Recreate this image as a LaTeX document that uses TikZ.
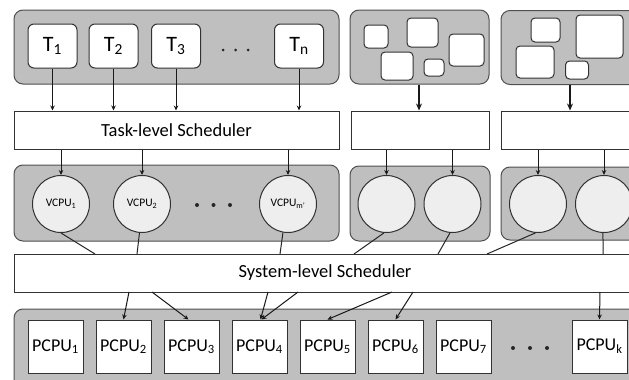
\documentclass[tikz,border=0pt]{standalone}
\usepackage{fontspec}
\setmainfont{Carlito}
\usetikzlibrary{arrows.meta}
\definecolor{grpfill}{RGB}{191,191,191}
\definecolor{grpline}{RGB}{80,80,80}
\definecolor{boxline}{RGB}{50,50,50}
\definecolor{circfill}{RGB}{238,238,238}
\begin{document}
\begin{tikzpicture}[x=1pt,y=-1pt,
  grp/.style={draw=grpline,fill=grpfill,rounded corners=9pt,line width=1pt,inner sep=0pt,rectangle},
  tbox/.style={draw=boxline,fill=white,rounded corners=6pt,line width=1pt,minimum width=49pt,minimum height=44pt,inner sep=0pt,font=\fontsize{22}{24}\selectfont},
  sbox/.style={draw=boxline,fill=white,rounded corners=4pt,line width=1pt,inner sep=0pt},
  sched/.style={draw=boxline,fill=white,line width=1pt,minimum height=38pt,inner sep=0pt,font=\fontsize{18.5}{20}\selectfont},
  vc/.style={circle,draw=boxline,fill=circfill,line width=1pt,minimum size=57pt,inner sep=0pt,font=\fontsize{11.5}{13}\selectfont},
  pc/.style={draw=boxline,fill=white,line width=1pt,minimum width=55pt,minimum height=53pt,inner sep=0pt,font=\fontsize{18}{20}\selectfont},
  arr/.style={line width=1pt,draw=black!90,-{Stealth[length=5pt,width=4.5pt]}},
  tarr/.style={line width=2pt,draw=black!90,-{Stealth[length=7pt,width=6pt]}},
  lnk/.style={line width=1pt,draw=black!85},
  dot/.style={circle,fill=black!85,inner sep=0pt}]
\useasboundingbox (0,0) rectangle (629,380);
\clip (0,0) rectangle (629,380);
\fill[white] (0,0) rectangle (629,380);

% top groups
\node[grp,minimum width=325pt,minimum height=74pt] (g1) at (176.5,47) {};
\node[grp,minimum width=139pt,minimum height=74pt] (g2) at (419.5,47) {};
\node[grp,minimum width=150pt,minimum height=74pt] (g3) at (576,47.5) {};

\node[tbox] (t1) at (52.5,46) {T\textsubscript{1}};
\node[tbox] (t2) at (113.5,46) {T\textsubscript{2}};
\node[tbox] (t3) at (176,46) {T\textsubscript{3}};
\node[tbox] (tn) at (299,46) {T\textsubscript{n}};
\node[dot,minimum size=3pt] (d1) at (223,50) {};
\node[dot,minimum size=3pt] (d2) at (235.5,50) {};
\node[dot,minimum size=3pt] (d3) at (248,50) {};

% small boxes group 2
\node[sbox,minimum width=24pt,minimum height=23pt] (ba) at (376,36.5) {};
\node[sbox,minimum width=31pt,minimum height=29pt] (bb) at (422.5,32.5) {};
\node[sbox,minimum width=35pt,minimum height=32pt] (bc) at (466.5,50) {};
\node[sbox,minimum width=32pt,minimum height=28pt] (bd) at (397,66) {};
\node[sbox,minimum width=20pt,minimum height=17pt] (be) at (434,67.5) {};
% small boxes group 3
\node[sbox,minimum width=29pt,minimum height=24pt] (bf) at (545.5,30) {};
\node[sbox,minimum width=47pt,minimum height=43pt] (bg) at (599.5,36.5) {};
\node[sbox,minimum width=38pt,minimum height=32pt] (bh) at (535,62) {};
\node[sbox,minimum width=23pt,minimum height=18pt] (bi) at (577,70) {};

% task-level schedulers
\node[sched,minimum width=325pt] (ts) at (176.5,130) {Task-level Scheduler};
\node[sched,minimum width=138pt] (s2) at (420,130) {};
\node[sched,minimum width=150pt] (s3) at (576,130) {};

\draw[arr] (t1.south) -- (t1.south |- ts.north);
\draw[arr] (t2.south) -- (t2.south |- ts.north);
\draw[arr] (t3.south) -- (t3.south |- ts.north);
\draw[arr] (tn.south) -- (tn.south |- ts.north);
\coordinate (a2) at (419,0);
\draw[tarr] (a2 |- g2.south) -- (a2 |- s2.north);
\coordinate (a3) at (570,0);
\draw[tarr] (a3 |- g3.south) -- (a3 |- s3.north);

% middle groups
\node[grp,minimum width=325pt,minimum height=76pt] (m1) at (176.5,203) {};
\node[grp,minimum width=140pt,minimum height=75pt] (m2) at (420,203.5) {};
\node[grp,minimum width=150pt,minimum height=73pt] (m3) at (576,203.5) {};

\node[vc] (v1) at (61,204) {VCPU\textsubscript{1}};
\node[vc] (v2) at (142,204) {VCPU\textsubscript{2}};
\node[vc] (vm) at (288,204) {VCPU\textsubscript{m’}};
\node[dot,minimum size=4pt] (e1) at (197,205) {};
\node[dot,minimum size=4pt] (e2) at (213.5,205) {};
\node[dot,minimum size=4pt] (e3) at (230,205) {};
\node[vc] (c1) at (386.5,204) {};
\node[vc] (c2) at (452.5,204) {};
\node[vc] (c3) at (538,204) {};
\node[vc] (c4) at (604,204) {};

\draw[arr] (v1 |- ts.south) -- (v1.north);
\draw[arr] (v2 |- ts.south) -- (v2.north);
\draw[arr] (vm |- ts.south) -- (vm.north);
\draw[arr] (c1 |- s2.south) -- (c1.north);
\draw[arr] (c2 |- s2.south) -- (c2.north);
\draw[arr] (c3 |- s3.south) -- (c3.north);
\draw[arr] (c4 |- s3.south) -- (c4.north);

% system-level scheduler
\node[sched,minimum width=622pt] (sys) at (325,273) {System-level Scheduler};

\coordinate (u1) at (95,254);
\coordinate (u2) at (137,254);
\coordinate (u3) at (280,254);
\coordinate (u4) at (354,254);
\coordinate (u5) at (438,254);
\coordinate (u6) at (487,254);
\coordinate (u7) at (603,254);
\draw[lnk] (v1.south) -- (u1);
\draw[lnk] (v2.-95) -- (u2);
\draw[lnk] (vm.-100) -- (u3);
\draw[lnk] (c1.-95) -- (u4);
\draw[lnk] (c2.-95) -- (u5);
\draw[lnk] (c3.-95) -- (u6);
\draw[lnk] (c4.-92) -- (u7);

% bottom group
\node[grp,minimum width=640pt,minimum height=90pt] (bot) at (334,354) {};
\node[pc] (p1) at (55.5,346.5) {PCPU\textsubscript{1}};
\node[pc] (p2) at (123.5,346.5) {PCPU\textsubscript{2}};
\node[pc] (p3) at (191.5,346.5) {PCPU\textsubscript{3}};
\node[pc] (p4) at (259.5,346.5) {PCPU\textsubscript{4}};
\node[pc] (p5) at (327.5,346.5) {PCPU\textsubscript{5}};
\node[pc] (p6) at (395.5,346.5) {PCPU\textsubscript{6}};
\node[pc] (p7) at (463.5,346.5) {PCPU\textsubscript{7}};
\node[pc] (pk) at (599.5,346.5) {PCPU\textsubscript{k}};
\node[dot,minimum size=4pt] (f1) at (513,348) {};
\node[dot,minimum size=4pt] (f2) at (530,348) {};
\node[dot,minimum size=4pt] (f3) at (547,348) {};

\coordinate (w1) at (129,292);
\coordinate (w2) at (152,292);
\coordinate (w3) at (268,292);
\coordinate (w4) at (298,292);
\coordinate (w5) at (392,292);
\coordinate (w6) at (413,292);
\coordinate (w7) at (600,292);
\draw[arr] (w1) -- (p2.north);
\draw[arr] (w2) -- ([xshift=-3pt]p3.north);
\draw[arr] (w3) -- ([xshift=1pt]p4.north);
\draw[arr] (w4) -- ([xshift=2pt]p4.north);
\draw[arr] (w5) -- (p5.north);
\draw[arr] (w6) -- (p6.north);
\draw[arr] (w7) -- (pk.north);
\end{tikzpicture}
\end{document}
